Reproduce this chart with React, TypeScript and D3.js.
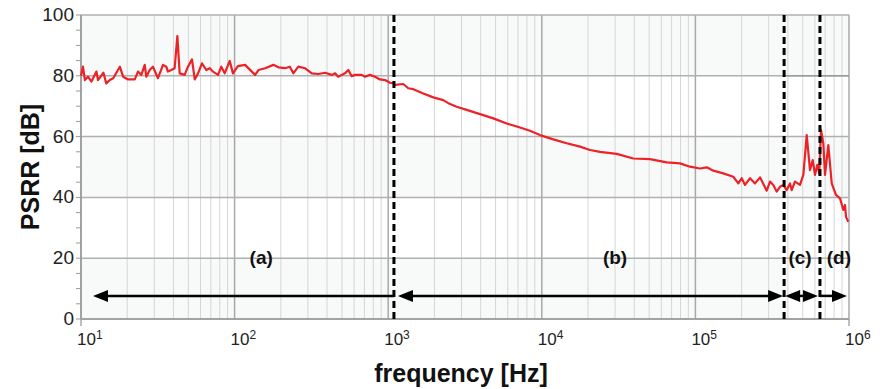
import React from "react";
import * as d3 from "d3";

const freqHz = [10, 10.3, 10.6, 11.1, 11.7, 12.6, 12.9, 14.0, 14.6, 15.4, 16.2, 17.9, 18.8, 20.2, 22.4, 23.5, 24.7, 26.0, 26.6, 28.0, 29.4, 31.7, 34.2, 35.9, 36.8, 38.7, 40.7, 42.4, 43.9, 47.3, 49.7, 52.8, 55.0, 57.8, 61.3, 65.4, 68.9, 72.3, 78.0, 81.9, 86.2, 92.9, 97.6, 105, 117, 136, 143, 158, 179, 193, 213, 229, 241, 260, 287, 318, 351, 388, 429, 451, 473, 498, 523, 550, 578, 608, 672, 706, 761, 820, 884, 953, 1027, 1080, 1107, 1254, 1351, 1456, 1692, 1966, 2284, 2462, 2790, 3243, 3960, 4833, 5908, 7213, 8377, 9731, 11880, 14520, 17740, 20600, 23930, 30730, 39420, 50620, 65030, 79370, 92210, 107100, 118500, 130800, 151900, 176500, 190200, 200200, 210400, 226700, 244400, 263400, 291200, 306000, 321500, 338100, 355400, 373500, 392700, 412900, 423500, 445000, 479700, 504200, 530500, 557300, 580300, 600600, 621700, 640600, 657200, 680300, 698000, 733400, 771800, 822400, 873700, 918300, 942000, 956100, 989500];
const psrrDb = [80.0, 83.0, 78.6, 79.7, 78.1, 81.4, 78.6, 81.0, 77.5, 78.6, 79.2, 83.0, 79.7, 78.8, 78.8, 81.4, 80.3, 83.6, 79.7, 81.9, 83.0, 79.2, 83.6, 83.0, 81.4, 81.9, 82.5, 93.1, 80.8, 80.3, 83.0, 85.4, 78.8, 80.8, 84.1, 81.9, 82.5, 81.4, 80.3, 83.0, 80.8, 84.9, 80.8, 83.2, 83.6, 80.3, 81.9, 82.5, 83.6, 82.8, 82.5, 83.0, 80.8, 83.0, 82.5, 80.8, 80.6, 81.0, 80.3, 80.8, 79.7, 80.3, 80.8, 81.9, 79.9, 80.3, 80.3, 79.7, 80.3, 79.7, 78.8, 78.6, 77.7, 77.5, 77.0, 77.3, 75.9, 75.6, 74.2, 72.9, 72.0, 71.0, 69.8, 68.8, 67.4, 66.0, 64.3, 63.0, 61.9, 60.5, 59.1, 57.8, 56.7, 55.6, 55.0, 54.3, 52.8, 52.6, 51.5, 51.2, 50.1, 49.5, 49.9, 48.8, 47.9, 46.8, 44.6, 46.3, 44.1, 46.3, 44.6, 46.6, 42.2, 45.2, 44.1, 41.9, 43.5, 44.1, 42.4, 44.6, 42.4, 45.2, 44.1, 47.4, 60.5, 49.0, 52.3, 47.4, 50.7, 47.9, 62.2, 57.8, 47.4, 57.2, 44.6, 40.8, 39.7, 35.9, 37.5, 33.6, 32.0];

const decadeExps = [1, 2, 3, 4, 5, 6];
const yTicks = [0, 20, 40, 60, 80, 100];
const shadedBands = [[0, 20], [40, 60], [80, 100]];
const regionBounds = [10, 1090, 378000, 647000, 1e6];
const regionLabels = ["(a)", "(b)", "(c)", "(d)"];
const regionLabelFreq = [149, 30000, 480000, 860000];
const arrowLevelDb = 7.6;
const labelLevelDb = 20;

const W = 886, H = 389;
const M = { left: 81, right: 849, top: 15, bottom: 319 };
const FONT = "'Liberation Sans', Arial, Helvetica, sans-serif";

export default function App() {
  const x = d3.scaleLog().domain([10, 1e6]).range([M.left, M.right]);
  const y = d3.scaleLinear().domain([0, 100]).range([M.bottom, M.top]);

  const minorFreqs: number[] = [];
  for (let e = 1; e < 6; e++) for (let m = 2; m <= 9; m++) minorFreqs.push(m * Math.pow(10, e));
  const minorY = d3.range(0, 101, 5);

  const line = d3.line<number>().x((_, i) => x(freqHz[i])).y((d) => y(d)).curve(d3.curveLinear);
  const ya = y(arrowLevelDb);

  const head = (tipX: number, dir: number) => {
    const L = 15, h = 6;
    return `M${tipX},${ya} L${tipX - dir * L},${ya - h} L${tipX - dir * L},${ya + h} Z`;
  };

  const b = regionBounds.map((f) => x(f));
  const arrows = [
    { x1: b[0] + 12, x2: b[1], left: true, right: false },
    { x1: b[1] + 4, x2: b[2] - 1, left: true, right: true },
    { x1: b[2] + 1, x2: b[3] - 2, left: true, right: true },
    { x1: b[3], x2: b[4] - 2, left: false, right: true },
  ];

  return (
    <svg width={W} height={H} style={{ position: "absolute", left: 0, top: 0, background: "#fff" }} fontFamily={FONT}>
      {shadedBands.map(([a, c], i) => (
        <rect key={i} x={M.left} y={y(c)} width={(i === 0 ? x(regionBounds[2]) + 3 : M.right) - M.left} height={y(a) - y(c)} fill="#f7faf9" />
      ))}
      {minorFreqs.map((f, i) => (
        <line key={i} x1={x(f)} x2={x(f)} y1={M.top} y2={M.bottom} stroke="#d6d6d6" strokeWidth={1} />
      ))}
      {decadeExps.map((e) => (
        <line key={e} x1={x(Math.pow(10, e))} x2={x(Math.pow(10, e))} y1={M.top} y2={M.bottom + (e === 1 || e === 6 ? 7 : 0)} stroke="#a8a8a8" strokeWidth={1.5} />
      ))}
      {yTicks.map((t) => (
        <line key={t} x1={M.left} x2={M.right} y1={y(t)} y2={y(t)} stroke="#b0b0b0" strokeWidth={1.5} />
      ))}
      <line x1={x(regionBounds[2])} x2={M.right} y1={y(80)} y2={y(80)} stroke="#999" strokeWidth={1.5} />
      {minorY.map((t) => (
        <line key={t} x1={M.left - 5} x2={M.left} y1={y(t)} y2={y(t)} stroke="#999" strokeWidth={1} />
      ))}
      <line x1={M.left} x2={M.left} y1={M.top} y2={M.bottom} stroke="#999" strokeWidth={1.5} />
      <line x1={M.left} x2={M.right} y1={M.bottom} y2={M.bottom} stroke="#999" strokeWidth={1.5} />

      <path d={line(psrrDb) || ""} fill="none" stroke="#ec2227" strokeWidth={2.2} strokeLinejoin="round" />

      {regionBounds.slice(1, 4).map((f, i) => (
        <line key={i} x1={x(f)} x2={x(f)} y1={M.top} y2={M.bottom} stroke="#000" strokeWidth={3} strokeDasharray="7,4" />
      ))}

      {arrows.map((a, i) => (
        <g key={i}>
          <line x1={a.x1 + (a.left ? 10 : 0)} x2={a.x2 - (a.right ? 10 : 0)} y1={ya} y2={ya} stroke="#000" strokeWidth={2.5} />
          {a.left && <path d={head(a.x1, -1)} fill="#000" />}
          {a.right && <path d={head(a.x2, 1)} fill="#000" />}
        </g>
      ))}

      {regionLabels.map((t, i) => (
        <text key={t} x={x(regionLabelFreq[i])} y={y(labelLevelDb) + 6} textAnchor="middle" fontSize={19} fontWeight="bold" fill="#111">{t}</text>
      ))}

      {yTicks.map((t) => (
        <text key={t} x={M.left - 7} y={y(t) + 6} textAnchor="end" fontSize={19} fill="#222">{t}</text>
      ))}
      {decadeExps.map((e) => (
        <text key={e} x={x(Math.pow(10, e)) - 4} y={M.bottom + 26} fontSize={17} fill="#222">
          10<tspan dy={-6} fontSize={12}>{e}</tspan>
        </text>
      ))}

      <text x={461} y={382} textAnchor="middle" fontSize={25} fontWeight="bold" fill="#111">frequency [Hz]</text>
      <text transform={`translate(39, ${(M.top + M.bottom) / 2}) rotate(-90)`} textAnchor="middle" fontSize={25} fontWeight="bold" fill="#111">PSRR [dB]</text>
    </svg>
  );
}
